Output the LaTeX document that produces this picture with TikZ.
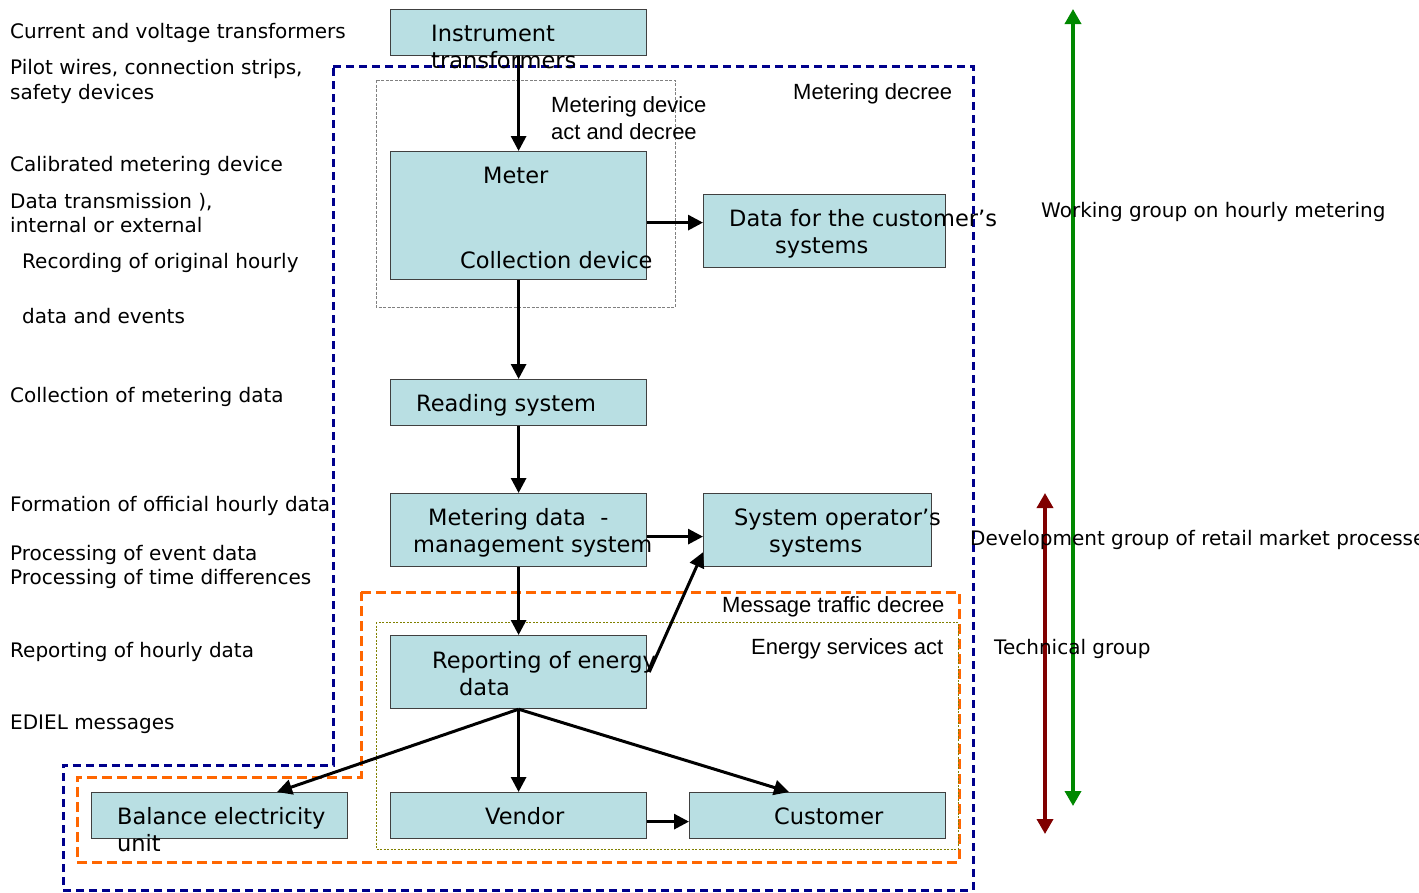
\documentclass[tikz,border=0pt]{standalone}
\usepackage{fontspec}
\setmainfont{DejaVu Sans}
\newfontfamily\arialf{Liberation Sans}
\usetikzlibrary{arrows.meta,calc}
\definecolor{boxfill}{RGB}{185,223,227}
\definecolor{navyd}{RGB}{0,0,140}
\definecolor{orng}{RGB}{255,102,0}
\definecolor{olv}{RGB}{128,128,0}
\definecolor{grn}{RGB}{0,136,0}
\definecolor{drd}{RGB}{128,0,0}
\begin{document}
\begin{tikzpicture}[x=1pt,y=-1pt,
  box/.style={draw=black!75,line width=1.2pt,fill=boxfill,inner sep=0pt,anchor=north west},
  lbl/.style={anchor=base west,inner sep=0pt,font=\fontsize{20}{24}\selectfont},
  btx/.style={anchor=base west,inner sep=0pt,font=\fontsize{22.5}{27}\selectfont},
  atx/.style={anchor=base west,inner sep=0pt,font=\arialf\fontsize{22}{26}\selectfont},
  arr/.style={line width=3pt,-{Triangle[length=15pt,width=15pt]}},
  navyb/.style={draw=navyd,line width=3pt,dash pattern=on 8pt off 5pt},
  orngb/.style={draw=orng,line width=3pt,dash pattern=on 10pt off 5pt},
  grayb/.style={draw=gray,line width=1pt,dash pattern=on 3pt off 1.5pt},
  olvb/.style={draw=olv,line width=1pt,dash pattern=on 2pt off 1.5pt},
  garr/.style={draw=grn,line width=3.5pt,{Triangle[length=15pt,width=16pt]}-{Triangle[length=15pt,width=16pt]}},
  rarr/.style={draw=drd,line width=3.5pt,{Triangle[length=15pt,width=16pt]}-{Triangle[length=15pt,width=16pt]}}
]
\useasboundingbox[fill=white] (0,0) rectangle (1419,892);

% region outlines
\draw[navyb] (333,66) -- (973,66) -- (973,890) -- (63,890) -- (63,765) -- (333,765) -- cycle;
\draw[grayb] (376,80) rectangle (675,307);
\draw[orngb] (361,592) -- (959,592) -- (959,862) -- (77,862) -- (77,777) -- (361,777) -- cycle;
\draw[olvb] (376,622) rectangle (958,849);

% boxes
\node[box,minimum width=256pt,minimum height=46pt] (inst) at (390,9) {};
\node[box,minimum width=256pt,minimum height=128pt] (meter) at (390,151) {};
\node[box,minimum width=242pt,minimum height=73pt] (data) at (703,194) {};
\node[box,minimum width=256pt,minimum height=46pt] (read) at (390,379) {};
\node[box,minimum width=256pt,minimum height=73pt] (mdms) at (390,493) {};
\node[box,minimum width=228pt,minimum height=73pt] (sysop) at (703,493) {};
\node[box,minimum width=256pt,minimum height=73pt] (rep) at (390,635) {};
\node[box,minimum width=256pt,minimum height=46pt] (bal) at (91,792) {};
\node[box,minimum width=256pt,minimum height=46pt] (vend) at (390,792) {};
\node[box,minimum width=256pt,minimum height=46pt] (cust) at (689,792) {};

% connectors
\draw[arr] (inst.south) -- (meter.north);
\draw[arr] ($(meter.east)+(0,7)$) -- ($(data.west)+(0,-8.5)$);
\draw[arr] (meter.south) -- (read.north);
\draw[arr] (read.south) -- (mdms.north);
\draw[arr] ($(mdms.east)+(0,6.5)$) -- ($(sysop.west)+(0,6.5)$);
\draw[arr] (mdms.south) -- (rep.north);
\draw[arr] ($(rep.east)+(2,0)$) -- ($(sysop.south west)+(0,-15)$);
\draw[arr] (rep.south) -- ($(bal.north west)+(186,0)$);
\draw[arr] (rep.south) -- (vend.north);
\draw[arr] (rep.south) -- ($(cust.north west)+(100,0)$);
\draw[arr] ($(vend.east)+(0,6)$) -- ($(cust.west)+(0,6)$);

% box texts
\node[btx] (t1a) at (431,41) {Instrument};
\node[btx] (t1b) at (431,68) {transformers};
\node[btx] (t2) at (483,183) {Meter};
\node[btx] (t3) at (460,268) {Collection device};
\node[btx] (t4a) at (729,226) {Data for the customer’s};
\node[btx] (t4b) at (775,253) {systems};
\node[btx] (t5) at (416,411) {Reading system};
\node[btx] (t6a) at (428,525) {Metering data\ \ -};
\node[btx] (t6b) at (413,552) {management system};
\node[btx] (t7a) at (734,525) {System operator’s};
\node[btx] (t7b) at (769,552) {systems};
\node[btx] (t8a) at (432,668) {Reporting of energy};
\node[btx] (t8b) at (459,695) {data};
\node[btx] (t9a) at (117,824) {Balance electricity};
\node[btx] (t9b) at (117,851) {unit};
\node[btx] (t10) at (485,824) {Vendor};
\node[btx] (t11) at (774,824) {Customer};

% region labels
\node[atx] (r1a) at (551,112) {Metering device};
\node[atx] (r1b) at (551,139) {act and decree};
\node[atx] (r2) at (793,99) {Metering decree};
\node[atx] (r3) at (722,612) {Message traffic decree};
\node[atx] (r4) at (751,654) {Energy services act};

% left labels
\node[lbl] (l1) at (10,38) {Current and voltage transformers};
\node[lbl] (l2a) at (10,74) {Pilot wires, connection strips,};
\node[lbl] (l2b) at (10,99) {safety devices};
\node[lbl] (l3) at (10,171) {Calibrated metering device};
\node[lbl] (l4a) at (10,208) {Data transmission ),};
\node[lbl] (l4b) at (10,232) {internal or external};
\node[lbl] (l5a) at (22,268) {Recording of original hourly};
\node[lbl] (l5b) at (22,323) {data and events};
\node[lbl] (l6) at (10,402) {Collection of metering data};
\node[lbl] (l7) at (10,511) {Formation of official hourly data};
\node[lbl] (l8a) at (10,560) {Processing of event data};
\node[lbl] (l8b) at (10,584) {Processing of time differences};
\node[lbl] (l9) at (10,657) {Reporting of hourly data};
\node[lbl] (l10) at (10,729) {EDIEL messages};

% working groups
\coordinate (gtop) at (1073,9);
\coordinate (gbot) at (1073,806);
\coordinate (rtop) at (1045,493);
\coordinate (rbot) at (1045,834);
\draw[garr] (gtop) -- (gbot);
\draw[rarr] (rtop) -- (rbot);
\node[lbl] (w1) at (1041,217) {Working group on hourly metering};
\node[lbl] (w2) at (970,545) {Development group of retail market processes};
\node[lbl] (w3) at (994,654) {Technical group};
\end{tikzpicture}
\end{document}
